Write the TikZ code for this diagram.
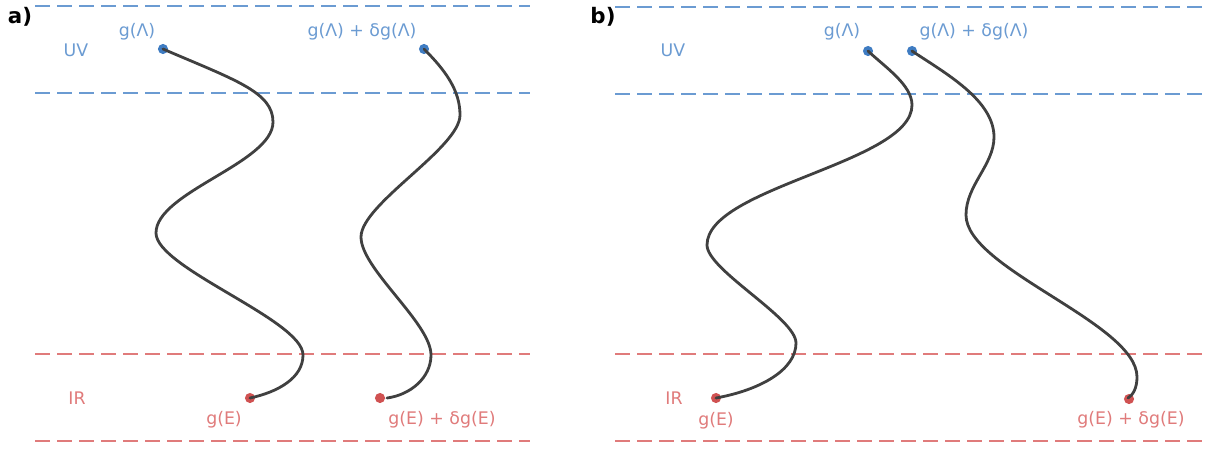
\documentclass[tikz,border=0pt]{standalone}
\usepackage{fontspec}
\setmainfont{DejaVu Sans}
\definecolor{uvline}{HTML}{6B9BD2}
\definecolor{irline}{HTML}{E07B7B}
\definecolor{uvdot}{HTML}{3F7CC2}
\definecolor{irdot}{HTML}{D05252}
\definecolor{flow}{HTML}{404040}
\tikzset{
  bound/.style={line width=2.2pt, dash pattern=on 11.5pt off 5pt},
  uvb/.style={bound, draw=uvline},
  irb/.style={bound, draw=irline},
  uvpt/.style={circle, fill=uvdot, inner sep=0pt, minimum size=7.6pt},
  irpt/.style={circle, fill=irdot, inner sep=0pt, minimum size=7.6pt},
  uvtxt/.style={text=uvline, font=\fontsize{13}{15}\selectfont, inner sep=0pt},
  irtxt/.style={text=irline, font=\fontsize{13}{15}\selectfont, inner sep=0pt},
  rg/.style={draw=flow, line width=2.1pt, line cap=round},
  paneltag/.style={font=\bfseries\fontsize{16}{18}\selectfont, inner sep=0pt}
}
\begin{document}
\begin{tikzpicture}[x=0.75pt, y=-0.75pt]
\useasboundingbox (0,0) rectangle (1219,450);
% ---------- panel a ----------
\node[paneltag] (ta) at (20,17) {a)};
\coordinate (a-uv1l) at (35,6);   \coordinate (a-uv1r) at (530,6);
\coordinate (a-uv2l) at (35,93);  \coordinate (a-uv2r) at (530,93);
\coordinate (a-ir1l) at (35,354); \coordinate (a-ir1r) at (530,354);
\coordinate (a-ir2l) at (35,441); \coordinate (a-ir2r) at (530,441);
\draw[uvb] (a-uv1l) -- (a-uv1r);
\draw[uvb] (a-uv2l) -- (a-uv2r);
\draw[irb] (a-ir1l) -- (a-ir1r);
\draw[irb] (a-ir2l) -- (a-ir2r);
\node[uvtxt] (a-uv) at (76,50) {UV};
\node[irtxt] (a-ir) at (77,398) {IR};
\node[uvtxt] (a-gl) at (137,32) {g(Λ)};
\node[uvtxt] (a-gdl) at (362,32) {g(Λ) + δg(Λ)};
\node[irtxt] (a-ge) at (224,420) {g(E)};
\node[irtxt] (a-gde) at (442,420) {g(E) + δg(E)};
\node[uvpt] (a-u1) at (163,49) {};
\node[uvpt] (a-u2) at (424,49) {};
\node[irpt] (a-e1) at (250,398) {};
\node[irpt] (a-e2) at (380,398) {};
\draw[rg] (a-u1.center) .. controls (235,80) and (273,92) .. (273,122)
  .. controls (273,163) and (156,192) .. (156,233)
  .. controls (156,268) and (303,320) .. (303,355)
  .. controls (303,378) and (278,392) .. (a-e1.center);
\draw[rg] (a-u2.center) .. controls (445,70) and (460,90) .. (460,115)
  .. controls (460,148) and (361,204) .. (361,237)
  .. controls (361,269) and (431,323) .. (431,355)
  .. controls (431,378) and (410,395) .. (387,398);
% ---------- panel b ----------
\node[paneltag] (tb) at (603,17) {b)};
\coordinate (b-uv1l) at (615,7);   \coordinate (b-uv1r) at (1205,7);
\coordinate (b-uv2l) at (615,94);  \coordinate (b-uv2r) at (1205,94);
\coordinate (b-ir1l) at (615,354); \coordinate (b-ir1r) at (1205,354);
\coordinate (b-ir2l) at (615,441); \coordinate (b-ir2r) at (1205,441);
\draw[uvb] (b-uv1l) -- (b-uv1r);
\draw[uvb] (b-uv2l) -- (b-uv2r);
\draw[irb] (b-ir1l) -- (b-ir1r);
\draw[irb] (b-ir2l) -- (b-ir2r);
\node[uvtxt] (b-uv) at (673,50) {UV};
\node[irtxt] (b-ir) at (674,398) {IR};
\node[uvtxt] (b-gl) at (842,32) {g(Λ)};
\node[uvtxt] (b-gdl) at (974,32) {g(Λ) + δg(Λ)};
\node[irtxt] (b-ge) at (716,421) {g(E)};
\node[irtxt] (b-gde) at (1131,420) {g(E) + δg(E)};
\node[uvpt] (b-u1) at (868,51) {};
\node[uvpt] (b-u2) at (912,51) {};
\node[irpt] (b-e1) at (716,398) {};
\node[irpt] (b-e2) at (1129,399) {};
\draw[rg] (b-u1.center) .. controls (885,67) and (912,85) .. (912,105)
  .. controls (912,163) and (707,187) .. (707,245)
  .. controls (707,270) and (796,318) .. (796,343)
  .. controls (796,370) and (760,390) .. (b-e1.center);
\draw[rg] (b-u2.center) .. controls (945,73) and (994,100) .. (994,137)
  .. controls (994,165) and (966,185) .. (966,215)
  .. controls (966,269) and (1137,323) .. (1137,377)
  .. controls (1137,388) and (1133,395) .. (1128,398);
\end{tikzpicture}
\end{document}
